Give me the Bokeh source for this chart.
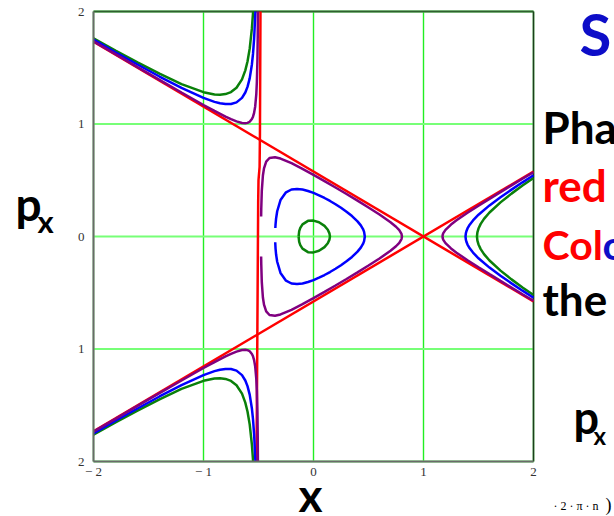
from bokeh.plotting import figure
from bokeh.models import Range1d, FixedTicker, Label
from bokeh.embed import file_html
from bokeh.resources import INLINE

# ---- axis ticks ----
x_ticks = [-2, -1, 0, 1, 2]
x_tick_labels = ["\u2212 2", "\u2212 1", "0", "1", "2"]
y_ticks = [-2, -1, 0, 1, 2]
y_tick_labels = ["2", "1", "0", "1", "2"]

# ---- separatrix (red) ----
red_diag1_x = [-2.0, 2.0]
red_diag1_p = [1.7321, -0.5774]
red_diag2_x = [-2.0, 2.0]
red_diag2_p = [-1.7321, 0.5774]
red_vert_x = [-0.482, -0.487, -0.490, -0.500, -0.503, -0.505, -0.510, -0.518]
red_vert_p = [2.0, 0.9, 0.62, 0.5, 0.3, 0.0, -0.8, -2.0]

# ---- green orbits ----
green_left_x = [-2.0, -1.8, -1.6, -1.4, -1.2, -1.0, -0.9, -0.85, -0.8, -0.75, -0.7, -0.65, -0.62, -0.6, -0.58, -0.56, -0.55, -0.549]
green_left_top_p = [1.762, 1.653, 1.548, 1.447, 1.355, 1.283, 1.263, 1.260, 1.266, 1.284, 1.322, 1.397, 1.477, 1.556, 1.670, 1.850, 1.983, 2.0]
green_left_bot_p = [-1.762, -1.653, -1.548, -1.447, -1.355, -1.283, -1.263, -1.260, -1.266, -1.284, -1.322, -1.397, -1.477, -1.556, -1.670, -1.850, -1.983, -2.0]
green_in_x = [-0.1355, -0.13, -0.12, -0.1, -0.05, 0.0, 0.05, 0.1, 0.13, 0.145, 0.1495, 0.145, 0.13, 0.1, 0.05, 0.0, -0.05, -0.1, -0.12, -0.13, -0.1355]
green_in_p = [0.0, 0.047, 0.0765, 0.108, 0.1391, 0.1414, 0.1264, 0.0943, 0.0602, 0.0279, 0.0, -0.0279, -0.0602, -0.0943, -0.1264, -0.1414, -0.1391, -0.108, -0.0765, -0.047, 0.0]
green_right_x = [2.0, 1.9, 1.8, 1.7, 1.6, 1.55, 1.52, 1.5, 1.49, 1.486, 1.49, 1.5, 1.52, 1.55, 1.6, 1.7, 1.8, 1.9, 2.0]
green_right_p = [0.5203, 0.4525, 0.3811, 0.3035, 0.2131, 0.1562, 0.1121, 0.0707, 0.0363, 0.0, -0.0363, -0.0707, -0.1121, -0.1562, -0.2131, -0.3035, -0.3811, -0.4525, -0.5203]

# ---- blue orbits ----
blue_left_x = [-2.0, -1.8, -1.6, -1.4, -1.2, -1.0, -0.9, -0.85, -0.8, -0.75, -0.7, -0.65, -0.62, -0.6, -0.58, -0.56, -0.55, -0.54, -0.53, -0.528]
blue_left_top_p = [1.750, 1.638, 1.529, 1.422, 1.321, 1.232, 1.197, 1.184, 1.177, 1.178, 1.192, 1.232, 1.280, 1.330, 1.406, 1.529, 1.623, 1.756, 1.959, 2.0]
blue_left_bot_p = [-1.750, -1.638, -1.529, -1.422, -1.321, -1.232, -1.197, -1.184, -1.177, -1.178, -1.192, -1.232, -1.280, -1.330, -1.406, -1.529, -1.623, -1.756, -1.959, -2.0]
blue_in_x = [-0.347, -0.345, -0.34, -0.33, -0.3, -0.25, -0.2, -0.15, -0.1, -0.05, 0.0, 0.05, 0.1, 0.15, 0.2, 0.25, 0.3, 0.35, 0.4, 0.43, 0.45, 0.46, 0.4665,
             0.46, 0.45, 0.43, 0.4, 0.35, 0.3, 0.25, 0.2, 0.15, 0.1, 0.05, 0.0, -0.05, -0.1, -0.15, -0.2, -0.25, -0.3, -0.33, -0.34, -0.345, -0.348]
blue_in_p = [0.0753, 0.1077, 0.1601, 0.2245, 0.324, 0.3926, 0.4177, 0.4230, 0.4173, 0.4047, 0.3873, 0.3663, 0.3424, 0.3159, 0.2870, 0.2555, 0.2208, 0.1816, 0.1347, 0.0987, 0.0659, 0.0414, 0.0,
             -0.0414, -0.0659, -0.0987, -0.1347, -0.1816, -0.2208, -0.2555, -0.2870, -0.3159, -0.3424, -0.3663, -0.3873, -0.4047, -0.4173, -0.4230, -0.4177, -0.3926, -0.324, -0.2245, -0.1601, -0.1077, -0.0513]
blue_right_x = [2.0, 1.9, 1.8, 1.7, 1.6, 1.5, 1.45, 1.42, 1.4, 1.39, 1.385, 1.382, 1.385, 1.39, 1.4, 1.42, 1.45, 1.5, 1.6, 1.7, 1.8, 1.9, 2.0]
blue_right_p = [0.5447, 0.4815, 0.4165, 0.3488, 0.2763, 0.1936, 0.1431, 0.1052, 0.0713, 0.0469, 0.0281, 0.0, -0.0281, -0.0469, -0.0713, -0.1052, -0.1431, -0.1936, -0.2763, -0.3488, -0.4165, -0.4815, -0.5447]

# ---- purple orbits ----
purple_left_x = [-2.0, -1.8, -1.6, -1.4, -1.2, -1.0, -0.9, -0.8, -0.75, -0.7, -0.65, -0.62, -0.6, -0.58, -0.56, -0.55, -0.54, -0.53, -0.52, -0.515, -0.51, -0.507, -0.5055]
purple_left_top_p = [1.735, 1.621, 1.506, 1.392, 1.280, 1.169, 1.116, 1.066, 1.043, 1.023, 1.009, 1.007, 1.010, 1.020, 1.044, 1.065, 1.099, 1.156, 1.266, 1.370, 1.558, 1.771, 2.0]
purple_left_bot_p = [-1.735, -1.621, -1.506, -1.392, -1.280, -1.169, -1.116, -1.066, -1.043, -1.023, -1.009, -1.007, -1.010, -1.020, -1.044, -1.065, -1.099, -1.156, -1.266, -1.370, -1.558, -1.771, -2.0]
purple_in_x = [-0.476, -0.475, -0.47, -0.46, -0.45, -0.43, -0.4, -0.35, -0.3, -0.2, -0.1, 0.0, 0.1, 0.2, 0.3, 0.4, 0.5, 0.6, 0.7, 0.75, 0.78, 0.8, 0.8042,
               0.8, 0.78, 0.75, 0.7, 0.6, 0.5, 0.4, 0.3, 0.2, 0.1, 0.0, -0.1, -0.2, -0.3, -0.35, -0.4, -0.43, -0.45, -0.46, -0.47, -0.475, -0.476]
purple_in_p = [0.178, 0.242, 0.406, 0.542, 0.606, 0.666, 0.6976, 0.7045, 0.6928, 0.6515, 0.6014, 0.5477, 0.4922, 0.4353, 0.3775, 0.3186, 0.2582, 0.1954, 0.1269, 0.0866, 0.0558, 0.0226, 0.0,
               -0.0226, -0.0558, -0.0866, -0.1269, -0.1954, -0.2582, -0.3186, -0.3775, -0.4353, -0.4922, -0.5477, -0.6014, -0.6515, -0.6928, -0.7045, -0.6976, -0.666, -0.606, -0.542, -0.406, -0.242, -0.178]
purple_right_x = [2.0, 1.9, 1.8, 1.7, 1.6, 1.5, 1.4, 1.3, 1.25, 1.2, 1.18, 1.175, 1.1729, 1.175, 1.18, 1.2, 1.25, 1.3, 1.4, 1.5, 1.6, 1.7, 1.8, 1.9, 2.0]
purple_right_p = [0.5715, 0.5129, 0.4540, 0.3947, 0.3348, 0.2739, 0.2111, 0.1440, 0.1063, 0.0594, 0.0296, 0.0159, 0.0, -0.0159, -0.0296, -0.0594, -0.1063, -0.1440, -0.2111, -0.2739, -0.3348, -0.3947, -0.4540, -0.5129, -0.5715]

RED = "#ff0000"
GREEN = "#0a800a"
BLUE = "#0000ff"
PURPLE = "#800080"
SLIDE_BLUE = "#0d0dc8"
LW = 2.5

# ---- layout (pixels): plot box inside a full-canvas frame ----
W, H = 614, 516
BOX_L, BOX_R, BOX_T, BOX_B = 93, 533, 11, 461
SX = (BOX_R - BOX_L) / (x_ticks[-1] - x_ticks[0])
SY = (BOX_B - BOX_T) / (y_ticks[-1] - y_ticks[0])


def xd(px):
    return x_ticks[0] + (px - BOX_L) / SX


def yd(py):
    return y_ticks[-1] - (py - BOX_T) / SY


p = figure(width=W, height=H, x_range=Range1d(xd(0), xd(W)), y_range=Range1d(yd(H), yd(0)),
           output_backend="svg", toolbar_location=None,
           min_border_left=0, min_border_right=0, min_border_top=0, min_border_bottom=0)
p.title.visible = False
p.background_fill_color = "white"
p.border_fill_color = "white"
p.outline_line_color = None
p.grid.visible = False

for ax, ticks, labels in ((p.xaxis, x_ticks, x_tick_labels), (p.yaxis, y_ticks, y_tick_labels)):
    ax.ticker = FixedTicker(ticks=ticks)
    ax.major_label_overrides = {t: l for t, l in zip(ticks, labels)}
    ax.major_tick_line_color = None
    ax.minor_tick_line_color = None
    ax.axis_line_color = "#6a6a6a"
    ax.axis_line_width = 2
    ax.major_label_text_font = "Liberation Serif"
    ax.major_label_text_font_size = "13px"
    ax.major_label_text_color = "#333333"
    ax.bounds = (ticks[0], ticks[-1])
p.xaxis.fixed_location = y_ticks[0]
p.yaxis.fixed_location = x_ticks[0]
p.xaxis.major_label_standoff = -4
p.yaxis.major_label_standoff = 3

# grid lines (Mathcad style, only inside the plot box)
p.segment(x0=x_ticks, y0=y_ticks[0], x1=x_ticks, y1=y_ticks[-1], line_color="#22ee22", line_width=1.4)
p.segment(x0=x_ticks[0], y0=y_ticks, x1=x_ticks[-1], y1=y_ticks, line_color="#77ff77", line_width=2)
# top and right edges of the plot box
p.segment(x0=x_ticks[0], y0=y_ticks[-1], x1=x_ticks[-1], y1=y_ticks[-1], line_color="#2f5f2f", line_width=2)
p.segment(x0=x_ticks[-1], y0=y_ticks[0], x1=x_ticks[-1], y1=y_ticks[-1], line_color="#1e3d1e", line_width=1.6)

# separatrix
p.line(red_diag1_x, red_diag1_p, line_color=RED, line_width=LW)
p.line(red_diag2_x, red_diag2_p, line_color=RED, line_width=LW)
p.line(red_vert_x, red_vert_p, line_color=RED, line_width=LW)

for col, lx, ltp, lbp, ix, ip, rx, rp in (
    (GREEN, green_left_x, green_left_top_p, green_left_bot_p, green_in_x, green_in_p, green_right_x, green_right_p),
    (BLUE, blue_left_x, blue_left_top_p, blue_left_bot_p, blue_in_x, blue_in_p, blue_right_x, blue_right_p),
    (PURPLE, purple_left_x, purple_left_top_p, purple_left_bot_p, purple_in_x, purple_in_p, purple_right_x, purple_right_p),
):
    p.line(lx, ltp, line_color=col, line_width=LW)
    p.line(lx, lbp, line_color=col, line_width=LW)
    p.line(ix, ip, line_color=col, line_width=LW)
    p.line(rx, rp, line_color=col, line_width=LW)

BASELINE_SHIFT = 0.42  # empirical correction of the rendered alphabetic baseline (in em)


def lab(text, px, py, size, color="black", font="Lato", style="bold", baseline="alphabetic"):
    if baseline == "alphabetic":
        py = py - BASELINE_SHIFT * size
    p.add_layout(Label(x=xd(px), y=yd(py), text=text,
                       text_font=font, text_font_size=f"{size}px", text_font_style=style,
                       text_color=color, text_align="left", text_baseline=baseline))


# axis titles (x positions / baselines in pixels)
lab("p", 15, 222, 46)
lab("x", 37, 234, 31)
lab("x", 298, 513, 46)

# slide text on the right
lab("Sh", 579, 57, 58, color=SLIDE_BLUE)
lab("Pha", 542, 145, 44)
lab("red", 542, 203, 44, color=RED)
lab("Col", 542, 261, 41, color=RED)
lab("o", 602, 261, 41, color=SLIDE_BLUE)
lab("the", 542, 317, 44)
lab("p", 573, 435, 45)
lab("x", 593, 445, 24)
lab("\u00b7 2 \u00b7 \u03c0 \u00b7 n", 553, 505, 12, font="Liberation Serif", style="normal", baseline="middle")
lab(")", 605, 504, 18, font="Liberation Serif", style="normal", baseline="middle")

open("out.html", "w").write(file_html(p, INLINE))
